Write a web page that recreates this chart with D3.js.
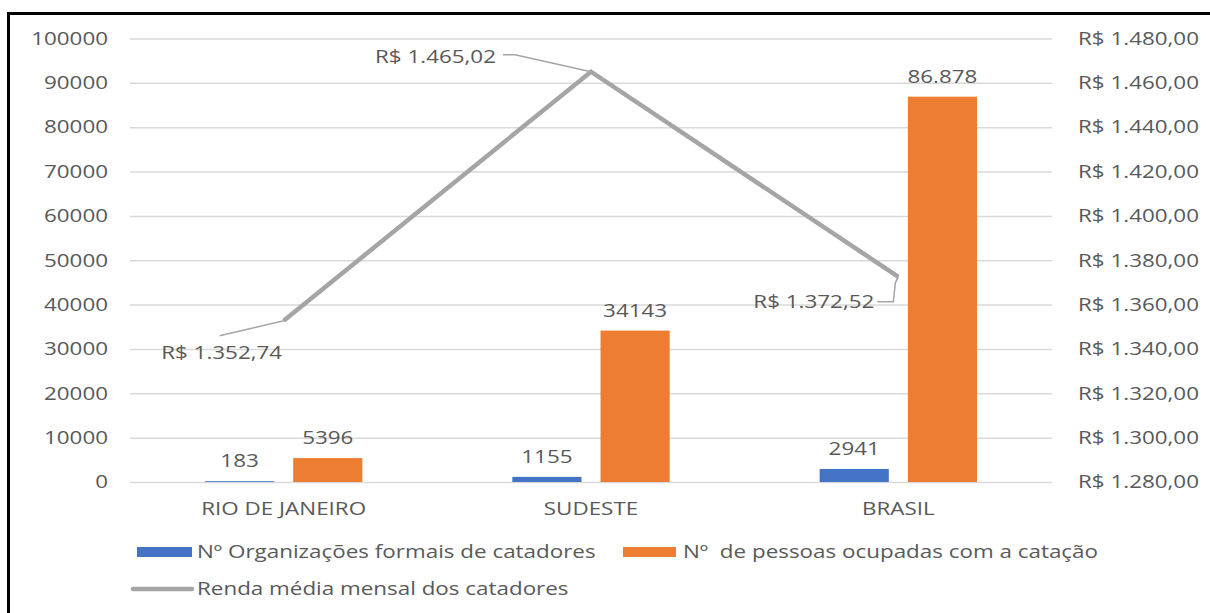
<!DOCTYPE html>
<html>
<head>
<meta charset="utf-8">
<script src="https://cdn.jsdelivr.net/npm/d3@7"></script>
<style>
  html, body { margin: 0; padding: 0; background: #fff; }
  text { font-family: "Open Sans", Lato, sans-serif; font-size: 18px; fill: #595959; }
</style>
</head>
<body>
<div id="chart"></div>
<script>
// data
const categories = ["RIO DE JANEIRO", "SUDESTE", "BRASIL"]
const organizacoes = [183, 1155, 2941]
const pessoas = [5396, 34143, 86878]
const pessoasLabels = ["5396", "34143", "86.878"]
const renda = [1352.74, 1465.02, 1372.52]
const leftTicks = [0, 10000, 20000, 30000, 40000, 50000, 60000, 70000, 80000, 90000, 100000]
const rightTicks = [1280, 1300, 1320, 1340, 1360, 1380, 1400, 1420, 1440, 1460, 1480]
const seriesNames = ["Nº Organizações formais de catadores", "Nº  de pessoas ocupadas com a catação", "Renda média mensal dos catadores"]
const colors = ["#4472c4", "#ed7d31", "#a5a5a5"]

const width = 1210, height = 613
const SX = 1.245   // text in the picture is stretched sideways
const FONT = "'Open Sans', Lato, sans-serif"
const plot = { left: 130, right: 1052, top: 38.5, bottom: 482 }

const svg = d3.select("#chart").append("svg")
    .attr("width", width).attr("height", height)

// frame (only top and left edges show in the crop)
svg.append("path")
    .attr("d", `M8.5,${height + 5}V13.5H${width + 5}`)
    .attr("fill", "none").attr("stroke", "#000").attr("stroke-width", 3)

const x0 = d3.scaleBand().domain(categories).range([plot.left, plot.right])
const x1 = d3.scaleBand().domain([0, 1]).range([0, x0.bandwidth()])
    .paddingInner(0.216).paddingOuter(0.85)
const y = d3.scaleLinear().domain([0, 100000]).range([plot.bottom, plot.top])
const y2 = d3.scaleLinear().domain([1280, 1480]).range([plot.bottom, plot.top])

const brl = d3.formatLocale({ decimal: ",", thousands: ".", grouping: [3], currency: ["R$ ", ""] })
const money = brl.format("$,.2f")

function stretch(sel) {
    // move the x offset into a transform so the glyphs can be widened
    sel.each(function() {
        const t = d3.select(this)
        const tx = +t.attr("x") || 0
        t.attr("x", 0).attr("transform", `translate(${tx},0) scale(${SX},1)`)
    })
}

function styleTicks(g) {
    g.select(".domain").remove()
    g.selectAll(".tick text").attr("fill", "#595959").style("font-size", "18px")
        .style("font-family", FONT).call(stretch)
}

// left axis + gridlines
const gl = svg.append("g").attr("transform", `translate(${plot.left},0)`)
    .call(d3.axisLeft(y).tickValues(leftTicks).tickFormat(d3.format("d"))
        .tickSize(-(plot.right - plot.left)).tickPadding(22))
gl.selectAll(".tick line").attr("stroke", "#d9d9d9").attr("stroke-width", 1.5)
styleTicks(gl)

// right axis labels
const gr = svg.append("g").attr("transform", `translate(${plot.right},0)`)
    .call(d3.axisRight(y2).tickValues(rightTicks).tickFormat(money).tickSize(0).tickPadding(26))
styleTicks(gr)

// category axis
const gx = svg.append("g").attr("transform", `translate(0,${plot.bottom})`)
    .call(d3.axisBottom(x0).tickSize(0).tickPadding(20))
styleTicks(gx)

// bars
const barSeries = [organizacoes, pessoas]
const barLabels = [organizacoes.map(String), pessoasLabels]
barSeries.forEach((vals, s) => {
    const g = svg.append("g")
    g.selectAll("rect").data(vals).enter().append("rect")
        .attr("x", (d, i) => x0(categories[i]) + x1(s))
        .attr("y", d => y(d))
        .attr("width", x1.bandwidth())
        .attr("height", d => y(0) - y(d))
        .attr("fill", colors[s])
    g.selectAll("text").data(vals).enter().append("text")
        .attr("text-anchor", "middle")
        .attr("transform", (d, i) => `translate(${x0(categories[i]) + x1(s) + x1.bandwidth() / 2},${y(d) - 14}) scale(${SX},1)`)
        .text((d, i) => barLabels[s][i])
})

// line on secondary axis
const cx = c => x0(c) + x0.bandwidth() / 2
const pts = renda.map((v, i) => [cx(categories[i]), y2(v)])
svg.append("path")
    .attr("d", d3.line()(pts))
    .attr("fill", "none").attr("stroke", colors[2]).attr("stroke-width", 4.5)
    .attr("stroke-linejoin", "miter")

// data labels with leader lines, offsets from each point
const lineLabelLayout = [
    { anchor: "middle", dx: -62, dy: 38, leader: [[-64, 15], [0, 0]] },
    { anchor: "end", dx: -95, dy: -9, leader: [[-88, -17], [-76, -17], [0, 0]] },
    { anchor: "end", dx: -24, dy: 31, leader: [[-21, 25], [-5, 25], [-3, 6], [0, 0]] }
]
pts.forEach((p, i) => {
    const L = lineLabelLayout[i]
    svg.append("path")
        .attr("d", d3.line()(L.leader.map(q => [p[0] + q[0], p[1] + q[1]])))
        .attr("fill", "none").attr("stroke", "#a5a5a5").attr("stroke-width", 1.5)
    svg.append("text")
        .attr("text-anchor", L.anchor)
        .attr("transform", `translate(${p[0] + L.dx},${p[1] + L.dy}) scale(${SX},1)`)
        .text(money(renda[i]))
})

// legend
const lg = svg.append("g")
lg.append("rect").attr("x", 137).attr("y", 547).attr("width", 55).attr("height", 10).attr("fill", colors[0])
lg.append("text").attr("transform", `translate(197,558) scale(${SX},1)`).text(seriesNames[0])
lg.append("rect").attr("x", 623).attr("y", 547).attr("width", 53).attr("height", 10).attr("fill", colors[1])
lg.append("text").attr("transform", `translate(683,558) scale(${SX},1)`)
    .style("white-space", "pre").text(seriesNames[1])
lg.append("line").attr("x1", 133).attr("x2", 192).attr("y1", 589).attr("y2", 589)
    .attr("stroke", colors[2]).attr("stroke-width", 4.5).attr("stroke-linecap", "round")
lg.append("text").attr("transform", `translate(197,595) scale(${SX},1)`).text(seriesNames[2])
</script>
</body>
</html>
